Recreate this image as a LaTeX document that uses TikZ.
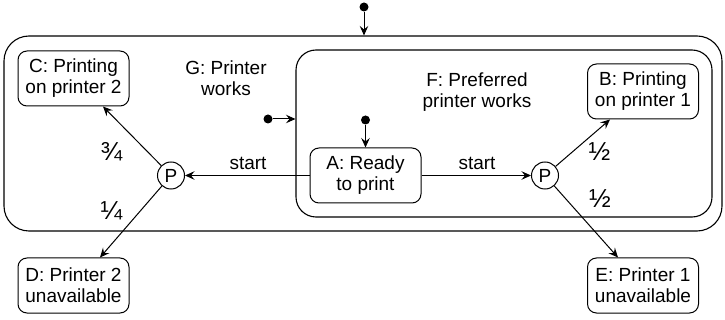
\documentclass[tikz,border=0pt]{standalone}
\usepackage{fontspec}
\setmainfont{Liberation Sans}
\usetikzlibrary{arrows.meta}
\newcommand\lblfont{\fontsize{19}{21}\selectfont}
\newcommand\fracfont{\fontsize{26}{26}\selectfont}
\begin{document}
\begin{tikzpicture}[x=1pt,y=-1pt,
  every node/.style={font=\lblfont},
  state/.style={draw, line width=1pt, rounded corners=9pt, minimum width=111pt,
    minimum height=55pt, align=center, inner sep=2pt},
  region/.style={draw, line width=1.1pt, inner sep=0pt},
  choice/.style={draw, circle, line width=1pt, minimum size=27pt, inner sep=0pt},
  initdot/.style={fill=black, circle, minimum size=9pt, inner sep=0pt},
  plain/.style={align=center, inner sep=0pt},
  fraclbl/.style={inner sep=0pt, font=\fracfont},
  arr/.style={line width=1pt, -{Stealth[length=9.5pt,width=8.5pt,inset=3.5pt]}}
]
\useasboundingbox (0,0) rectangle (725,320);

% regions
\node[region, rounded corners=25pt, minimum width=718pt, minimum height=195pt] (g) at (363,133.5) {};
\node[region, rounded corners=20pt, minimum width=416pt, minimum height=167pt] (f) at (504,133.5) {};

% region labels
\node[plain] (glabel) at (226,78.5) {G: Printer\\works};
\node[plain] (flabel) at (477,92.5) {F: Preferred\\printer works};

% states
\node[state] (c) at (73.5,78.5) {C: Printing\\on printer 2};
\node[state] (b) at (643,91.5) {B: Printing\\on printer 1};
\node[state] (d) at (73.5,285.5) {D: Printer 2\\unavailable};
\node[state] (e) at (643,285.5) {E: Printer 1\\unavailable};
\node[state] (a) at (365.5,175.5) {A: Ready\\to print};

% choice points
\node[choice] (pl) at (171,175.5) {P};
\node[choice] (pr) at (545,175.5) {P};

% initial dots
\node[initdot] (d0) at (364,7) {};
\node[initdot] (da) at (365.5,120) {};
\node[initdot] (dg) at (268,119) {};

\draw[arr] (d0) -- (d0 |- g.north);
\draw[arr] (da) -- (a);
\draw[arr] (dg) -- (dg -| f.west);

% transitions
\draw[arr] (a.west) -- (pl);
\draw[arr] (a.east) -- (pr);
\draw[arr] (pl) -- ([xshift=29.5pt]c.south);
\draw[arr] (pl) -- ([xshift=26.5pt]d.north);
\draw[arr] (pr) -- ([xshift=-33pt]b.south);
\draw[arr] (pr) -- ([xshift=-25pt]e.north);

% labels
\node[plain] (s1) at (248,163) {start};
\node[plain] (s2) at (477,163) {start};
\node[fraclbl] (f1) at (111.5,151.5) {¾};
\node[fraclbl] (f2) at (111.5,210.5) {¼};
\node[fraclbl] (f3) at (599.5,152) {½};
\node[fraclbl] (f4) at (600,198.5) {½};
\end{tikzpicture}
\end{document}
